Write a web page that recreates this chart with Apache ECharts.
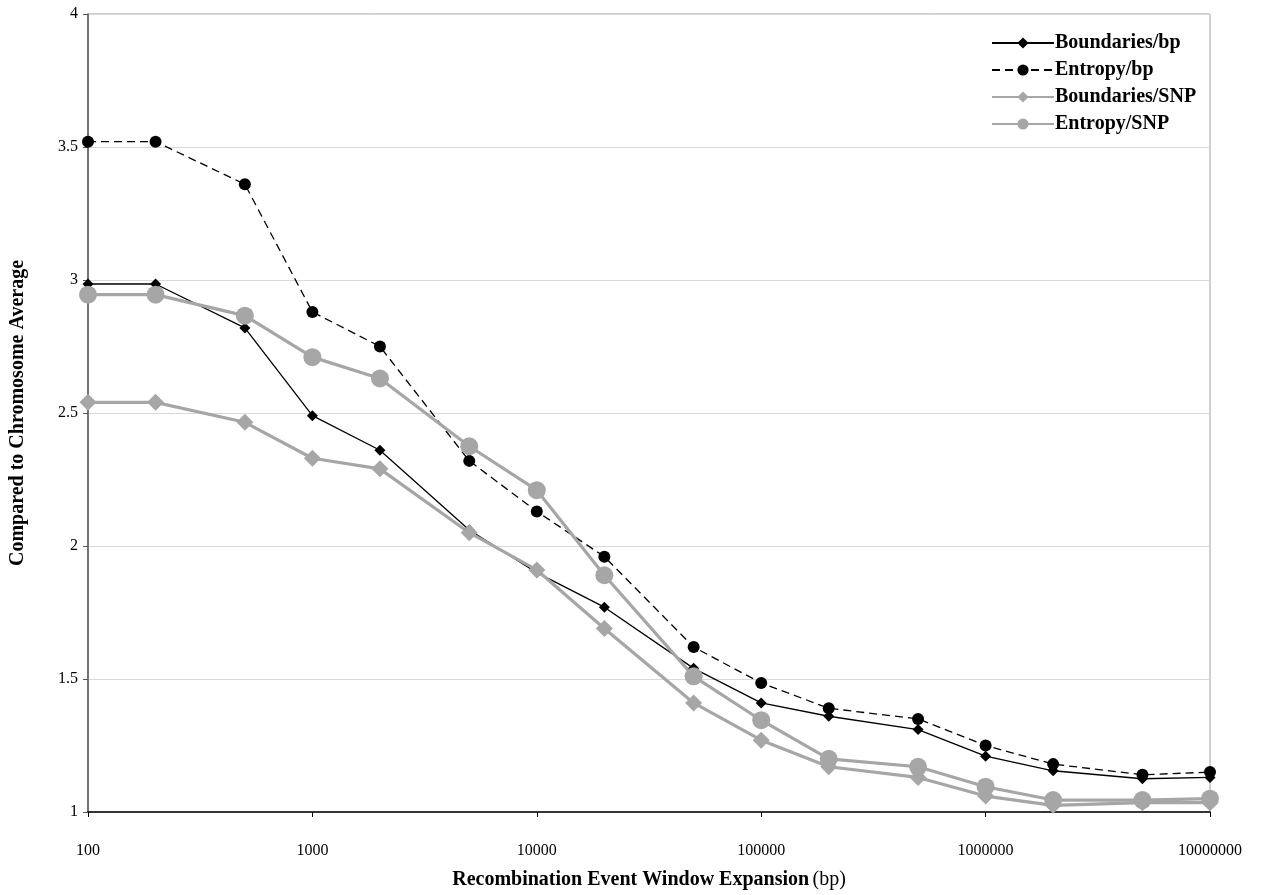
<!DOCTYPE html>
<html>
<head>
<meta charset="utf-8">
<script src="https://cdn.jsdelivr.net/npm/echarts@6/dist/echarts.min.js"></script>
<style>html,body{margin:0;padding:0;background:#fff;}#c{width:1263px;height:895px;}</style>
</head>
<body>
<div id="c"></div>
<script>
const windows = [100, 200, 500, 1000, 2000, 5000, 10000, 20000, 50000, 100000, 200000, 500000, 1000000, 2000000, 5000000, 10000000];
const boundariesBp = [2.985, 2.985, 2.82, 2.49, 2.36, 2.06, 1.90, 1.77, 1.54, 1.41, 1.36, 1.31, 1.21, 1.155, 1.125, 1.13];
const entropyBp    = [3.52, 3.52, 3.36, 2.88, 2.75, 2.32, 2.13, 1.96, 1.62, 1.485, 1.39, 1.35, 1.25, 1.18, 1.14, 1.15];
const boundariesSnp= [2.54, 2.54, 2.465, 2.33, 2.29, 2.05, 1.91, 1.69, 1.41, 1.27, 1.17, 1.13, 1.06, 1.025, 1.035, 1.035];
const entropySnp   = [2.945, 2.945, 2.866, 2.71, 2.63, 2.375, 2.21, 1.89, 1.51, 1.345, 1.20, 1.17, 1.095, 1.045, 1.045, 1.05];
const seriesNames = ['Boundaries/bp', 'Entropy/bp', 'Boundaries/SNP', 'Entropy/SNP'];
const yTicks = [1, 1.5, 2, 2.5, 3, 3.5, 4];

const pair = arr => windows.map((x, i) => [x, arr[i]]);
const FONT = '"Liberation Serif", "Times New Roman", serif';
const GREY = '#a6a6a6';

const chart = echarts.init(document.getElementById('c'));
chart.setOption({
  animation: false,
  backgroundColor: '#fff',
  grid: { left: 88, right: 53, top: 14, bottom: 82, show: true, borderColor: '#a0a0a0', borderWidth: 1, backgroundColor: 'transparent' },
  legend: {
    orient: 'vertical', left: 986, top: 28, itemWidth: 62, itemHeight: 14, itemGap: 7,
    data: seriesNames,
    textStyle: { fontFamily: FONT, fontSize: 20, lineHeight: 20, fontWeight: 'bold', color: '#000', padding: [0,0,0,-4] }
  },
  xAxis: {
    type: 'log', logBase: 10, min: 100, max: 10000000,
    name: '{b|Recombination Event Window Expansion} {n|(bp)}',
    nameLocation: 'middle', nameGap: 58,
    nameTextStyle: { rich: { b: { fontFamily: FONT, fontSize: 20, fontWeight: 'bold', color: '#000' }, n: { fontFamily: FONT, fontSize: 20, color: '#000' } } },
    axisLine: { lineStyle: { color: '#000', width: 1.5 } },
    axisTick: { show: true, length: 5, inside: false, lineStyle: { color: '#000' } },
    minorTick: { show: false },
    splitLine: { show: false },
    axisLabel: { margin: 31, fontFamily: FONT, fontSize: 16, color: '#000', formatter: v => String(Math.round(v)) }
  },
  yAxis: {
    type: 'value', min: 1, max: 4, interval: 0.5,
    name: 'Compared to Chromosome Average', nameLocation: 'middle', nameGap: 60,
    nameTextStyle: { fontFamily: FONT, fontSize: 20, fontWeight: 'bold', color: '#000' },
    axisLine: { show: true, lineStyle: { color: '#555', width: 1.5 } },
    axisTick: { show: true, length: 5, lineStyle: { color: '#555' } },
    splitLine: { show: true, lineStyle: { color: '#d9d9d9', width: 1 } },
    axisLabel: { margin: 10, fontFamily: FONT, fontSize: 16, color: '#000', formatter: v => yTicks.includes(+v.toFixed(2)) ? String(+v.toFixed(2)) : '' }
  },
  series: [
    { name: seriesNames[0], type: 'line', data: pair(boundariesBp), symbol: 'diamond', symbolSize: 11,
      lineStyle: { color: '#000', width: 1.3 }, itemStyle: { color: '#000' } },
    { name: seriesNames[1], type: 'line', data: pair(entropyBp), symbol: 'circle', symbolSize: 12,
      lineStyle: { color: '#000', width: 1.3, type: [8, 5] }, itemStyle: { color: '#000' } },
    { name: seriesNames[2], type: 'line', data: pair(boundariesSnp), symbol: 'diamond', symbolSize: 17,
      lineStyle: { color: GREY, width: 3.2 }, itemStyle: { color: GREY } },
    { name: seriesNames[3], type: 'line', data: pair(entropySnp), symbol: 'circle', symbolSize: 18,
      lineStyle: { color: GREY, width: 3.2 }, itemStyle: { color: GREY } }
  ]
});
</script>
</body>
</html>
